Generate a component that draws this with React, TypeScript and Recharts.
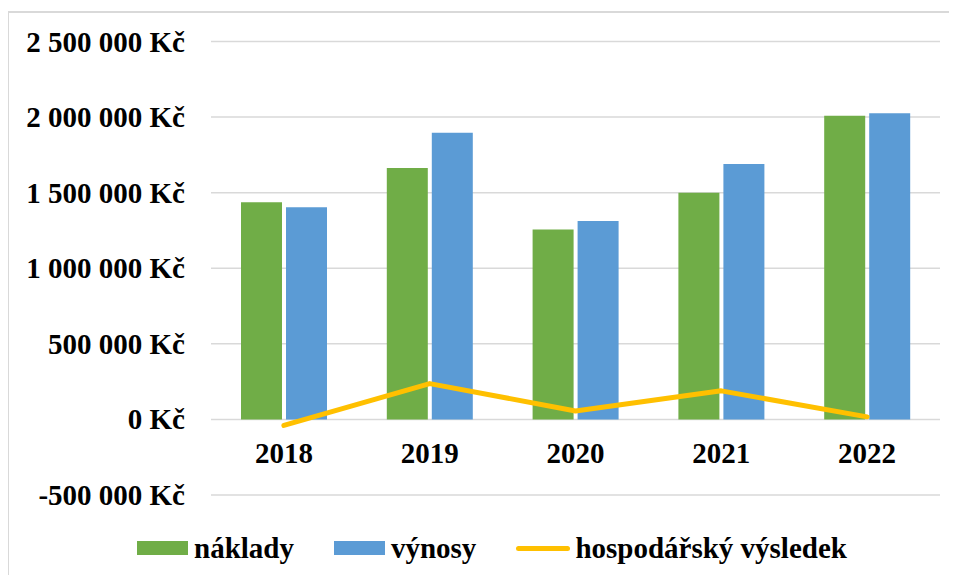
import React from 'react';
import { ComposedChart, Bar, Line, XAxis, YAxis, CartesianGrid } from 'recharts';

const years = ['2018', '2019', '2020', '2021', '2022'];
const naklady = [1436000, 1664000, 1257000, 1500000, 2008000];
const vynosy = [1403000, 1897000, 1312000, 1690000, 2025000];
const vysledek = [-40000, 237000, 56000, 189000, 17000];
const yTicks = [-500000, 0, 500000, 1000000, 1500000, 2000000, 2500000];

const seriesNames = ['náklady', 'výnosy', 'hospodářský výsledek'];
const colors = ['#70AD47', '#5B9BD5', '#FFC000'];

const data = years.map((y, i) => ({
  year: y,
  naklady: naklady[i],
  vynosy: vynosy[i],
  vysledek: vysledek[i],
}));

const FONT = 'Liberation Serif';
const FS = 29;

const fmt = (v: number) => {
  const neg = v < 0;
  const s = Math.abs(v).toString().replace(/\B(?=(\d{3})+(?!\d))/g, ' ');
  return (neg ? '-' : '') + s + ' Kč';
};

const XTick = (props: any) => {
  const { x, y, payload } = props;
  return (
    <text
      x={x}
      y={y - 32}
      textAnchor="middle"
      fontFamily={FONT}
      fontWeight="bold"
      fontSize={FS}
      fill="#000"
    >
      {payload.value}
    </text>
  );
};

const YTick = (props: any) => {
  const { x, y, payload } = props;
  return (
    <text
      x={x}
      y={y}
      dy={10}
      textAnchor="end"
      fontFamily={FONT}
      fontWeight="bold"
      fontSize={FS}
      fill="#000"
    >
      {fmt(payload.value)}
    </text>
  );
};

export default function App() {
  return (
    <div
      style={{
        position: 'relative',
        width: 957,
        height: 583,
        margin: -8,
        overflow: 'hidden',
        background: '#fff',
      }}
    >
      <div
        style={{
          position: 'absolute',
          left: 7,
          top: 11,
          width: 1000,
          height: 1000,
          borderLeft: '2px solid #d9d9d9',
          borderTop: '2px solid #d9d9d9',
          boxSizing: 'border-box',
        }}
      />
      <div style={{ position: 'absolute', left: 0, top: 0 }}>
        <ComposedChart
          width={957}
          height={583}
          data={data}
          margin={{ top: 41.5, right: 17, left: 0, bottom: 58 }}
          barGap={4}
        >
          <CartesianGrid vertical={false} stroke="#d9d9d9" strokeWidth={1.5} />
          <XAxis
            dataKey="year"
            axisLine={false}
            tickLine={false}
            tickSize={0}
            tickMargin={0}
            height={30}
            tick={<XTick />}
            interval={0}
          />
          <YAxis
            width={211}
            domain={[-500000, 2500000]}
            ticks={yTicks}
            axisLine={false}
            tickLine={false}
            tickSize={0}
            tickMargin={26}
            interval={0}
            tick={<YTick />}
          />
          <Bar dataKey="naklady" name={seriesNames[0]} fill={colors[0]} barSize={41} isAnimationActive={false} />
          <Bar dataKey="vynosy" name={seriesNames[1]} fill={colors[1]} barSize={41} isAnimationActive={false} />
          <Line
            dataKey="vysledek"
            name={seriesNames[2]}
            stroke={colors[2]}
            strokeWidth={5}
            strokeLinecap="round"
            strokeLinejoin="round"
            dot={false}
            activeDot={false}
            type="linear"
            isAnimationActive={false}
          />
        </ComposedChart>
      </div>
      <div
        style={{
          position: 'absolute',
          left: 137,
          top: 530,
          height: 36,
          display: 'flex',
          alignItems: 'center',
          fontFamily: FONT,
          fontWeight: 'bold',
          fontSize: FS,
          color: '#000',
          whiteSpace: 'nowrap',
        }}
      >
        {seriesNames.map((n, i) => (
          <div key={n} style={{ display: 'flex', alignItems: 'center', marginRight: i < 2 ? 40 : 0 }}>
            {i < 2 ? (
              <div style={{ width: 51, height: 14, background: colors[i], marginRight: 6 }} />
            ) : (
              <div
                style={{
                  width: 54,
                  height: 5,
                  background: colors[i],
                  borderRadius: 3,
                  marginRight: 5,
                }}
              />
            )}
            <span>{n}</span>
          </div>
        ))}
      </div>
    </div>
  );
}
